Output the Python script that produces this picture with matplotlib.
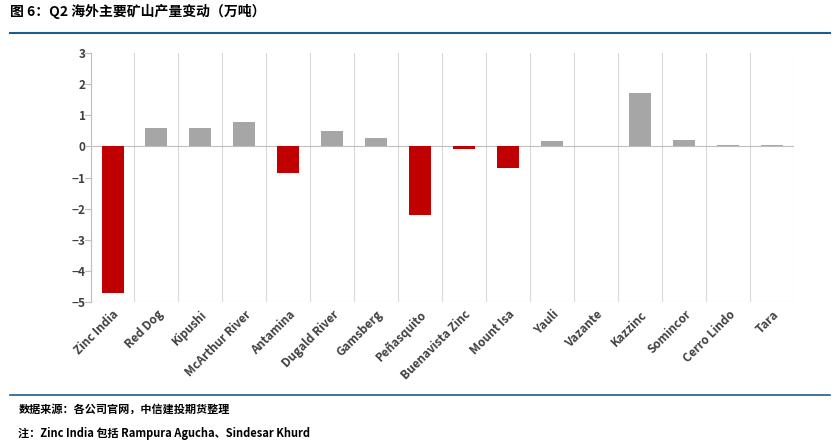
import matplotlib.pyplot as plt
import numpy as np

plt.rcParams['font.family'] = ['Noto Sans CJK SC', 'DejaVu Sans']

mines = ['Zinc India', 'Red Dog', 'Kipushi', 'McArthur River', 'Antamina', 'Dugald River',
         'Gamsberg', 'Peñasquito', 'Buenavista Zinc', 'Mount Isa', 'Yauli', 'Vazante',
         'Kazzinc', 'Somincor', 'Cerro Lindo', 'Tara']
change = [-4.7, 0.57, 0.57, 0.77, -0.85, 0.48, 0.28, -2.2, -0.08, -0.7, 0.18, 0.0,
          1.72, 0.2, 0.05, 0.05]

fig = plt.figure(figsize=(8.38, 4.46), dpi=100)
ax = fig.add_axes([0.108, 0.322, 0.84, 0.56])

x = np.arange(len(mines))
colors = ['#C00000' if v < 0 else '#A6A6A6' for v in change]
ax.bar(x, change, width=0.5, color=colors, zorder=3)

ax.set_xlim(-0.5, len(mines) - 0.5)
ax.set_ylim(-5, 3)
ax.set_yticks(range(-5, 4))
ax.set_xticks(x)
ax.set_xticklabels(mines, rotation=45, ha='right', rotation_mode='anchor',
                   fontsize=8.5, fontweight='bold', color='#404040')
ax.tick_params(axis='y', labelsize=8.5, length=0, colors='#404040')
for lab in ax.get_yticklabels():
    lab.set_fontweight('bold')
ax.tick_params(axis='x', length=0, pad=4)
for xv in np.arange(-0.5, len(mines), 1):
    ax.axvline(xv, color='#D9D9D9', lw=0.8, zorder=1)
for yv in range(-5, 4):
    ax.plot([-0.62, -0.5], [yv, yv], color='#BFBFBF', lw=0.8, clip_on=False)
ax.axhline(0, color='#BFBFBF', lw=0.8, zorder=2)
ax.axhline(-5, color='#D9D9D9', lw=0.8, zorder=1)
for s in ['top', 'right', 'bottom']:
    ax.spines[s].set_visible(False)
ax.spines['left'].set_color('#BFBFBF')

fig.text(0.012, 0.965, '图 6：Q2 海外主要矿山产量变动（万吨）', fontsize=10, fontweight='bold')
fig.add_artist(plt.Line2D([0.012, 0.99], [0.925, 0.925], color='#1F5C8B', lw=1.5))
fig.add_artist(plt.Line2D([0.012, 0.99], [0.115, 0.115], color='#1F5C8B', lw=1.2))
fig.text(0.022, 0.075, '数据来源：各公司官网，中信建投期货整理', fontsize=8, fontweight='bold', style='italic')
fig.text(0.022, 0.02, '注：Zinc India 包括 Rampura Agucha、Sindesar Khurd', fontsize=8,
         fontweight='bold', style='italic')

fig.savefig('out.png')
